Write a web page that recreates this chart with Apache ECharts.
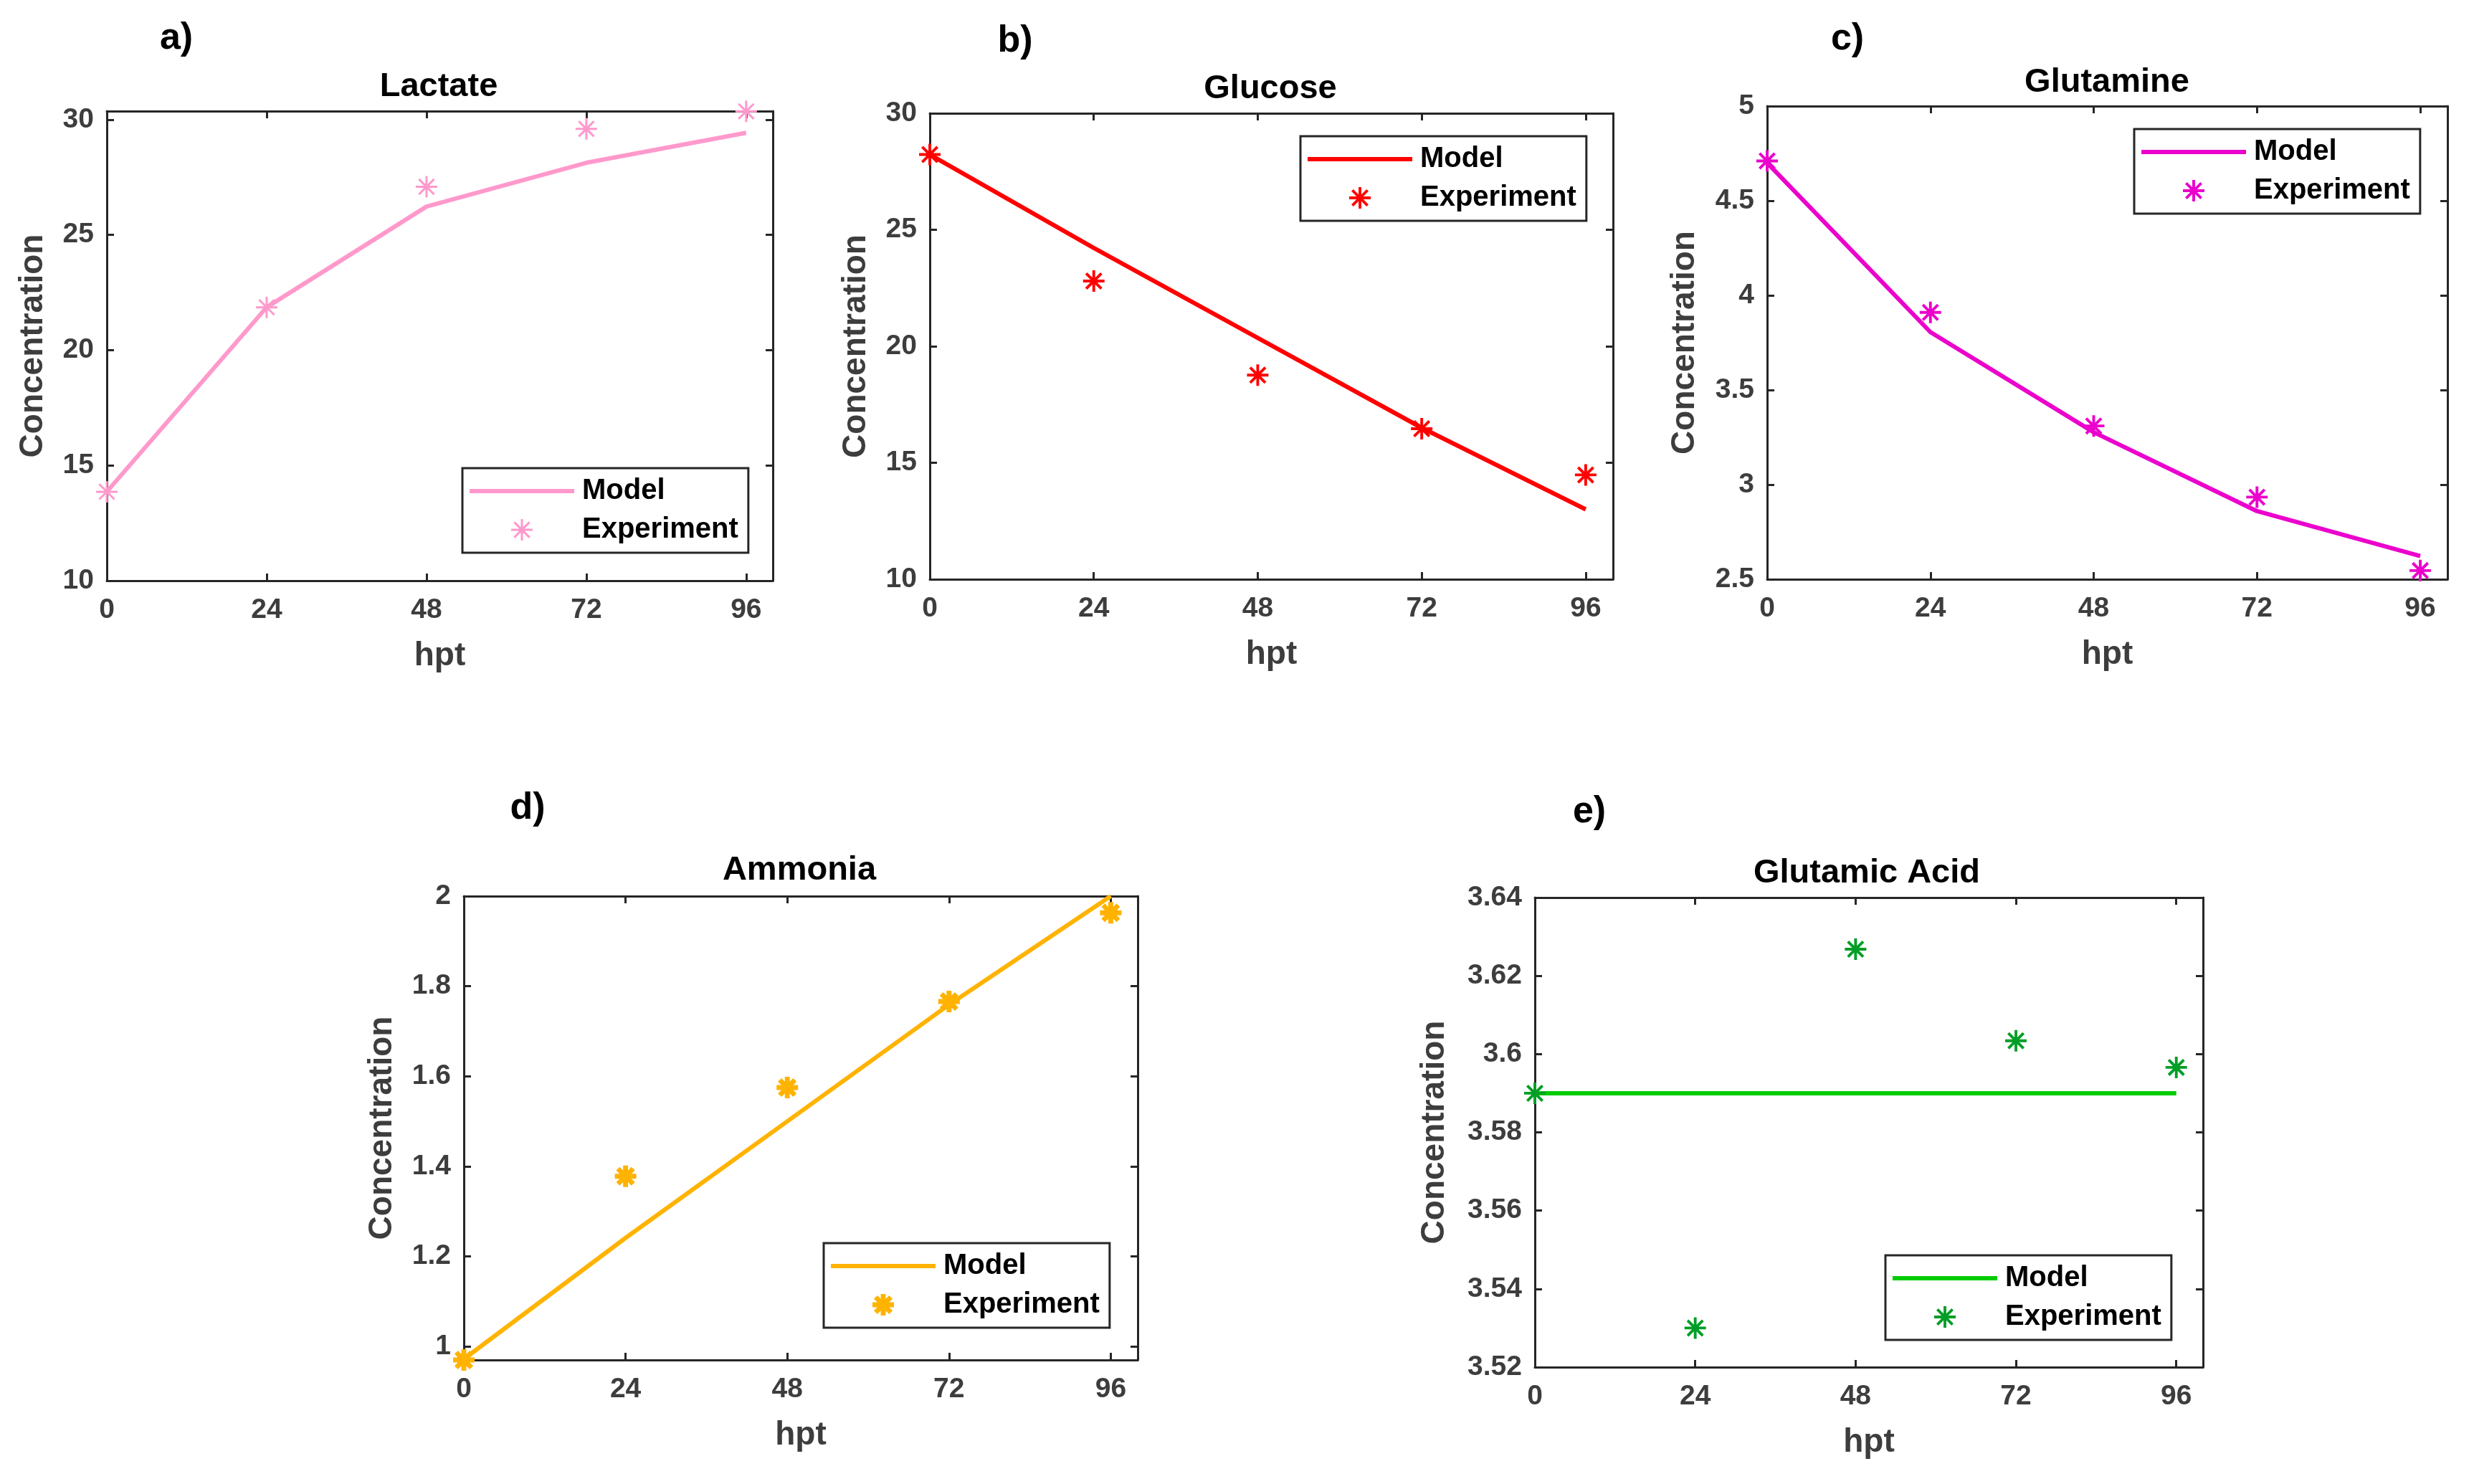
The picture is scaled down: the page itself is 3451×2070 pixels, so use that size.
<!DOCTYPE html>
<html lang="en">
<head>
    <meta charset="UTF-8">
    <title>Model vs Experiment</title>
    <script src="https://cdn.jsdelivr.net/npm/echarts@6/dist/echarts.min.js"></script>
    <style>
        html, body { margin: 0; padding: 0; background: #fff; }
    </style>
</head>
<body>
<div id="main" style="width: 3451px;height:2070px;"></div>
<script type="text/javascript">
    // time points (hpt)
    var hpt = [0, 24, 48, 72, 96];
    var xTicks = [0, 24, 48, 72, 96];

    // a) Lactate
    var lactateModel = [13.86, 21.86, 26.23, 28.13, 29.43];
    var lactateExp = [13.86, 21.86, 27.09, 29.6, 30.36];
    var lactateTicks = [10, 15, 20, 25, 30];

    // b) Glucose
    var glucoseModel = [28.23, 24.22, 20.36, 16.5, 13.0];
    var glucoseExp = [28.23, 22.8, 18.76, 16.46, 14.48];
    var glucoseTicks = [10, 15, 20, 25, 30];

    // c) Glutamine
    var glutamineModel = [4.70, 3.806, 3.277, 2.86, 2.623];
    var glutamineExp = [4.71, 3.91, 3.31, 2.934, 2.546];
    var glutamineTicks = [2.5, 3, 3.5, 4, 4.5, 5];

    // d) Ammonia
    var ammoniaModel = [0.972, 1.241, 1.5, 1.759, 2.0];
    var ammoniaExp = [0.97, 1.378, 1.575, 1.766, 1.963];
    var ammoniaTicks = [1, 1.2, 1.4, 1.6, 1.8, 2];

    // e) Glutamic Acid
    var glutamicModel = [3.59, 3.59, 3.59, 3.59, 3.59];
    var glutamicExp = [3.59, 3.530, 3.6268, 3.6034, 3.5966];
    var glutamicTicks = [3.52, 3.54, 3.56, 3.58, 3.6, 3.62, 3.64];

    var FONT = "'Liberation Sans', Arial, sans-serif";
    var AXIS_COLOR = '#262626';
    var LABEL_COLOR = '#3d3d3d';

    // asterisk marker (MATLAB '*'): 4 bars through the centre, t = bar thickness out of 100
    function starPath(t) {
        var h = t / 2, parts = [];
        [0, 45, 90, 135].forEach(function (deg) {
            var r = deg * Math.PI / 180, c = Math.cos(r), s = Math.sin(r);
            var pts = [[-h, -50], [h, -50], [h, 50], [-h, 50]].map(function (p) {
                return (p[0] * c - p[1] * s).toFixed(2) + ' ' + (p[0] * s + p[1] * c).toFixed(2);
            });
            parts.push('M' + pts[0] + ' L' + pts[1] + ' L' + pts[2] + ' L' + pts[3] + ' Z');
        });
        return 'path://' + parts.join(' ');
    }
    // plain line sample for the legend (no symbol in the middle)
    var LINE_ICON = 'path://M0 0 L146 0 L146 6 L0 6 Z';

    function zip(xs, ys) {
        return xs.map(function (x, i) { return [x, ys[i]]; });
    }

    var panels = [
        {key: 'a', title: 'Lactate', letter: 'a)', box: [149, 155, 929, 655], titleAt: [612, 121], letterAt: [246, 54],
            legendAt: [645, 653], yGap: 80, model: lactateModel, exp: lactateExp, yTicks: lactateTicks,
            yMin: 10, yMax: 30.37, line: '#FF99CC', mark: '#FF99CC', t: 10},
        {key: 'b', title: 'Glucose', letter: 'b)', box: [1297, 158, 953, 650], titleAt: [1772, 124], letterAt: [1416, 58],
            legendAt: [1814, 190], yGap: 80, model: glucoseModel, exp: glucoseExp, yTicks: glucoseTicks,
            yMin: 10, yMax: 30, line: '#FF0000', mark: '#FF0000', t: 13},
        {key: 'c', title: 'Glutamine', letter: 'c)', box: [2465, 148, 949, 660], titleAt: [2939, 115], letterAt: [2577, 55],
            legendAt: [2977, 180], yGap: 92, model: glutamineModel, exp: glutamineExp, yTicks: glutamineTicks,
            yMin: 2.5, yMax: 5, line: '#EB00CC', mark: '#EB00CC', t: 13},
        {key: 'd', title: 'Ammonia', letter: 'd)', box: [647, 1250, 940, 647], titleAt: [1115, 1214], letterAt: [736, 1128],
            legendAt: [1149, 1734], yGap: 91, model: ammoniaModel, exp: ammoniaExp, yTicks: ammoniaTicks,
            yMin: 0.97, yMax: 2, line: '#FFB300', mark: '#FFB300', t: 23},
        {key: 'e', title: 'Glutamic Acid', letter: 'e)', box: [2141, 1252, 932, 655], titleAt: [2604, 1218], letterAt: [2217, 1133],
            legendAt: [2630, 1751], yGap: 117, model: glutamicModel, exp: glutamicExp, yTicks: glutamicTicks,
            yMin: 3.52, yMax: 3.64, line: '#00CC00', mark: '#009E26', t: 13}
    ];

    var grid = [], xAxis = [], yAxis = [], series = [], legend = [], graphic = [];

    panels.forEach(function (p, i) {
        grid.push({left: p.box[0], top: p.box[1], width: p.box[2], height: p.box[3],
            containLabel: false, outerBoundsMode: 'none'});

        var lineSt = {show: true, onZero: false, lineStyle: {color: AXIS_COLOR, width: 3}};
        var tickSt = {show: true, inside: true, length: 10, lineStyle: {color: AXIS_COLOR, width: 3}};
        var labelSt = {fontSize: 39, fontWeight: 'bold', color: LABEL_COLOR, fontFamily: FONT};
        var nameSt = {fontSize: 46, fontWeight: 'bold', color: LABEL_COLOR, fontFamily: FONT};

        // bottom + top x axes
        xAxis.push({
            gridIndex: i, type: 'value', position: 'bottom', min: 0, max: 100,
            name: 'hpt', nameLocation: 'middle', nameGap: 82, nameTextStyle: nameSt,
            axisLine: lineSt, splitLine: {show: false},
            axisTick: Object.assign({customValues: xTicks}, tickSt),
            axisLabel: Object.assign({customValues: xTicks, margin: 22}, labelSt)
        });
        xAxis.push({
            gridIndex: i, type: 'value', position: 'top', min: 0, max: 100,
            axisLine: lineSt, splitLine: {show: false},
            axisTick: Object.assign({customValues: xTicks}, tickSt),
            axisLabel: {show: false}
        });
        // left + right y axes
        yAxis.push({
            gridIndex: i, type: 'value', position: 'left', min: p.yMin, max: p.yMax,
            name: 'Concentration', nameLocation: 'middle', nameGap: p.yGap, nameTextStyle: nameSt,
            axisLine: lineSt, splitLine: {show: false},
            axisTick: Object.assign({customValues: p.yTicks}, tickSt),
            axisLabel: Object.assign({customValues: p.yTicks, margin: 18}, labelSt)
        });
        yAxis.push({
            gridIndex: i, type: 'value', position: 'right', min: p.yMin, max: p.yMax,
            axisLine: lineSt, splitLine: {show: false},
            axisTick: Object.assign({customValues: p.yTicks}, tickSt),
            axisLabel: {show: false}
        });

        series.push({
            name: 'Model#' + p.key, type: 'line', xAxisIndex: 2 * i, yAxisIndex: 2 * i,
            data: zip(hpt, p.model), symbol: 'none', showSymbol: false, clip: false, silent: true,
            lineStyle: {color: p.line, width: 6}, itemStyle: {color: p.line}, z: 2
        });
        series.push({
            name: 'Experiment#' + p.key, type: 'scatter', xAxisIndex: 2 * i, yAxisIndex: 2 * i,
            data: zip(hpt, p.exp), symbol: starPath(p.t), symbolSize: 30, clip: false, silent: true,
            itemStyle: {color: p.mark, opacity: 1}, z: 3
        });

        legend.push({
            data: [
                {name: 'Model#' + p.key, icon: LINE_ICON, itemStyle: {color: p.line}},
                {name: 'Experiment#' + p.key}
            ],
            formatter: function (name) { return name.split('#')[0]; },
            orient: 'vertical', left: p.legendAt[0], top: p.legendAt[1],
            itemWidth: 146, itemHeight: 30, itemGap: 14,
            padding: [12, 14, 12, 10],
            borderColor: AXIS_COLOR, borderWidth: 3, backgroundColor: '#ffffff',
            selectedMode: false, symbolKeepAspect: true,
            textStyle: {fontSize: 40, fontWeight: 'bold', color: '#000', fontFamily: FONT,
                lineHeight: 40, padding: [0, 0, 0, 6]}
        });

        graphic.push({
            type: 'text', x: p.titleAt[0], y: p.titleAt[1], silent: true,
            style: {text: p.title, font: 'bold 47px ' + FONT, fill: '#000',
                align: 'center', verticalAlign: 'middle', textAlign: 'center', textVerticalAlign: 'middle'}
        });
        graphic.push({
            type: 'text', x: p.letterAt[0], y: p.letterAt[1], silent: true,
            style: {text: p.letter, font: 'bold 52px ' + FONT, fill: '#000',
                align: 'center', verticalAlign: 'middle', textAlign: 'center', textVerticalAlign: 'middle'}
        });
    });

    var myChart = echarts.init(document.getElementById('main'));
    myChart.setOption({
        backgroundColor: '#ffffff',
        animation: false,
        grid: grid,
        xAxis: xAxis,
        yAxis: yAxis,
        legend: legend,
        graphic: graphic,
        series: series
    });
</script>
</body>
</html>
